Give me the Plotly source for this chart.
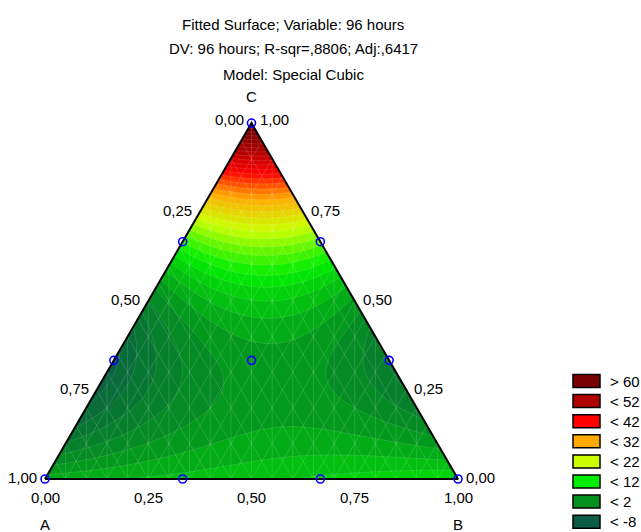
import numpy as np
import plotly.graph_objects as go

# ---- chart text ----
title_lines = [
    "Fitted Surface; Variable: 96 hours",
    "DV: 96 hours; R-sqr=,8806; Adj:,6417",
    "Model: Special Cubic",
]
vertex_names = ["A", "B", "C"]

# ---- special cubic model: y = sum b_i x_i + sum b_ij x_i x_j + b_123 x1 x2 x3 ----
linear_coefs = [5.0, 10.0, 67.0]        # A, B, C
binary_coefs = [0.0, -145.0, -140.0]    # AB, AC, BC
ternary_coef = 200.0                    # ABC

# ---- design points (A, B, C) ----
design_A = [1, 0, 0, 2/3, 1/3, 2/3, 1/3, 0, 0, 1/3]
design_B = [0, 1, 0, 1/3, 2/3, 0, 0, 2/3, 1/3, 1/3]
design_C = [0, 0, 1, 0, 0, 1/3, 2/3, 1/3, 2/3, 1/3]

# ---- axis ticks ----
tick_values = [0.0, 0.25, 0.5, 0.75, 1.0]
tick_labels = ["0,00", "0,25", "0,50", "0,75", "1,00"]

# ---- colour levels ----
level_values = [-8, 2, 12, 22, 32, 42, 52, 62]
level_colors = ["#0c5c46", "#03901f", "#00ee00", "#ccff00",
                "#ffaa00", "#ff0000", "#b00000", "#780000"]
legend_labels = ["> 60", "< 52", "< 42", "< 32", "< 22", "< 12", "< 2", "< -8"]

W, H = 641, 532
FONT = "Liberation Sans, Arial, sans-serif"
h = np.sqrt(3) / 2

# pixel geometry of the plotting frame
X0_PX, UX = 45.0, 413.0     # px of x=0 and px per unit
Y0_PX, UY = 479.0, 411.0    # px of y=0 and px per unit
x_range = [-X0_PX / UX, (W - X0_PX) / UX]
y_range = [-(H - Y0_PX) / UY, Y0_PX / UY]


def to_xy(a, b, c):
    a, b, c = np.asarray(a, float), np.asarray(b, float), np.asarray(c, float)
    return b + c / 2.0, c * h


def model(a, b, c):
    return (linear_coefs[0] * a + linear_coefs[1] * b + linear_coefs[2] * c
            + binary_coefs[0] * a * b + binary_coefs[1] * a * c
            + binary_coefs[2] * b * c + ternary_coef * a * b * c)


def py_to_y(py):
    return (Y0_PX - py) / UY


# surface grid over the bounding box of the triangle
gx = np.linspace(-0.02, 1.02, 420)
gy = np.linspace(0.0, h + 0.01, 380)
GX, GY = np.meshgrid(gx, gy)
GC = GY / h
GB = GX - GC / 2
GA = 1 - GB - GC
Z = model(GA, GB, GC)

lo, hi = level_values[0], level_values[-1]
colorscale = [[(v - lo) / (hi - lo), c] for v, c in zip(level_values, level_colors)]

fig = go.Figure()
fig.add_trace(go.Contour(
    x=gx, y=gy, z=Z, zmin=lo, zmax=hi, colorscale=colorscale,
    autocontour=False,
    contours=dict(start=-14, end=74, size=2, coloring="fill"),
    line=dict(color="rgba(255,255,255,0.22)", width=0.6),
    showscale=False, hoverinfo="skip",
))

# faint mesh: constant-B, constant-A and vertical lines
mx, my = [], []
steps = np.arange(0.05, 1.0, 0.05)
for k in steps:
    x1, y1 = to_xy(1 - k, k, 0)
    x2, y2 = to_xy(0, k, 1 - k)
    mx += [float(x1), float(x2), None]; my += [float(y1), float(y2), None]
    x1, y1 = to_xy(k, 1 - k, 0)
    x2, y2 = to_xy(k, 0, 1 - k)
    mx += [float(x1), float(x2), None]; my += [float(y1), float(y2), None]
    top = 2 * h * min(k, 1 - k)
    mx += [float(k), float(k), None]; my += [0.0, top, None]
fig.add_trace(go.Scatter(x=mx, y=my, mode="lines",
                         line=dict(color="rgba(255,255,255,0.18)", width=0.8),
                         hoverinfo="skip", showlegend=False))

# white masks outside the simplex
ax_, ay_ = to_xy(1, 0, 0)
bx_, by_ = to_xy(0, 1, 0)
cx_, cy_ = to_xy(0, 0, 1)
for pts in ([(-0.1, 0), (float(ax_), 0), (float(cx_), float(cy_)), (float(cx_), 1.0), (-0.1, 1.0)],
            [(1.1, 0), (float(bx_), 0), (float(cx_), float(cy_)), (float(cx_), 1.0), (1.1, 1.0)]):
    fig.add_trace(go.Scatter(x=[p[0] for p in pts] + [pts[0][0]],
                             y=[p[1] for p in pts] + [pts[0][1]],
                             mode="lines", fill="toself", fillcolor="white",
                             line=dict(width=0, color="white"),
                             hoverinfo="skip", showlegend=False))

# triangle outline
fig.add_trace(go.Scatter(x=[float(ax_), float(bx_), float(cx_), float(ax_)],
                         y=[float(ay_), float(by_), float(cy_), float(ay_)],
                         mode="lines", line=dict(color="black", width=2),
                         hoverinfo="skip", showlegend=False))

# design points
dx, dy = to_xy(design_A, design_B, design_C)
fig.add_trace(go.Scatter(x=dx, y=dy, mode="markers",
                         marker=dict(symbol="circle-open", size=8,
                                     color="#0000ff", line=dict(width=1.6, color="#0000ff")),
                         hoverinfo="skip", showlegend=False))

ann = []
fs = 15
# bottom axis: B
for v, t in zip(tick_values, tick_labels):
    x, _ = to_xy(1 - v, v, 0)
    ann.append(dict(x=float(x), y=py_to_y(497), text=t, showarrow=False,
                    xanchor="center", yanchor="middle"))
# left axis: A
for v, t in zip(tick_values, tick_labels):
    x, y = to_xy(v, 0, 1 - v)
    ann.append(dict(x=float(x), y=float(y), text=t, showarrow=False,
                    xanchor="right", yanchor="middle", xshift=-6,
                    yshift=4 if v == 0 else 2))
# right axis: C
for v, t in zip(tick_values, tick_labels):
    x, y = to_xy(0, 1 - v, v)
    ann.append(dict(x=float(x), y=float(y), text=t, showarrow=False,
                    xanchor="left", yanchor="middle", xshift=6,
                    yshift=4 if v == 1 else 2))
# vertex names
ann.append(dict(x=float(ax_), y=py_to_y(524), text=vertex_names[0], showarrow=False,
                xanchor="center", yanchor="middle"))
ann.append(dict(x=float(bx_), y=py_to_y(524), text=vertex_names[1], showarrow=False,
                xanchor="center", yanchor="middle"))
ann.append(dict(x=float(cx_), y=py_to_y(96), text=vertex_names[2], showarrow=False,
                xanchor="center", yanchor="middle"))
# titles
for py, t in zip([24, 49, 75], title_lines):
    ann.append(dict(xref="paper", yref="paper", x=293 / W, y=1 - py / H, text=t,
                    showarrow=False, xanchor="center", yanchor="middle"))

# legend
shapes = []
for i, (lab, col) in enumerate(zip(legend_labels, level_colors[::-1])):
    cy = 381 + 20.1 * i
    shapes.append(dict(type="rect", xref="paper", yref="paper",
                       x0=573 / W, x1=600 / W, y0=1 - (cy + 6.5) / H, y1=1 - (cy - 6.5) / H,
                       fillcolor=col, line=dict(color="black", width=1.5)))
    ann.append(dict(xref="paper", yref="paper", x=608 / W, y=1 - cy / H, text=lab,
                    showarrow=False, xanchor="left", yanchor="middle"))

for a in ann:
    a.setdefault("font", dict(family=FONT, size=fs, color="black"))

fig.update_layout(
    width=W, height=H, margin=dict(l=0, r=0, t=0, b=0),
    paper_bgcolor="white", plot_bgcolor="white",
    xaxis=dict(range=x_range, visible=False, fixedrange=True),
    yaxis=dict(range=y_range, visible=False, fixedrange=True),
    annotations=ann, shapes=shapes, showlegend=False,
)
fig.write_html("out.html")
